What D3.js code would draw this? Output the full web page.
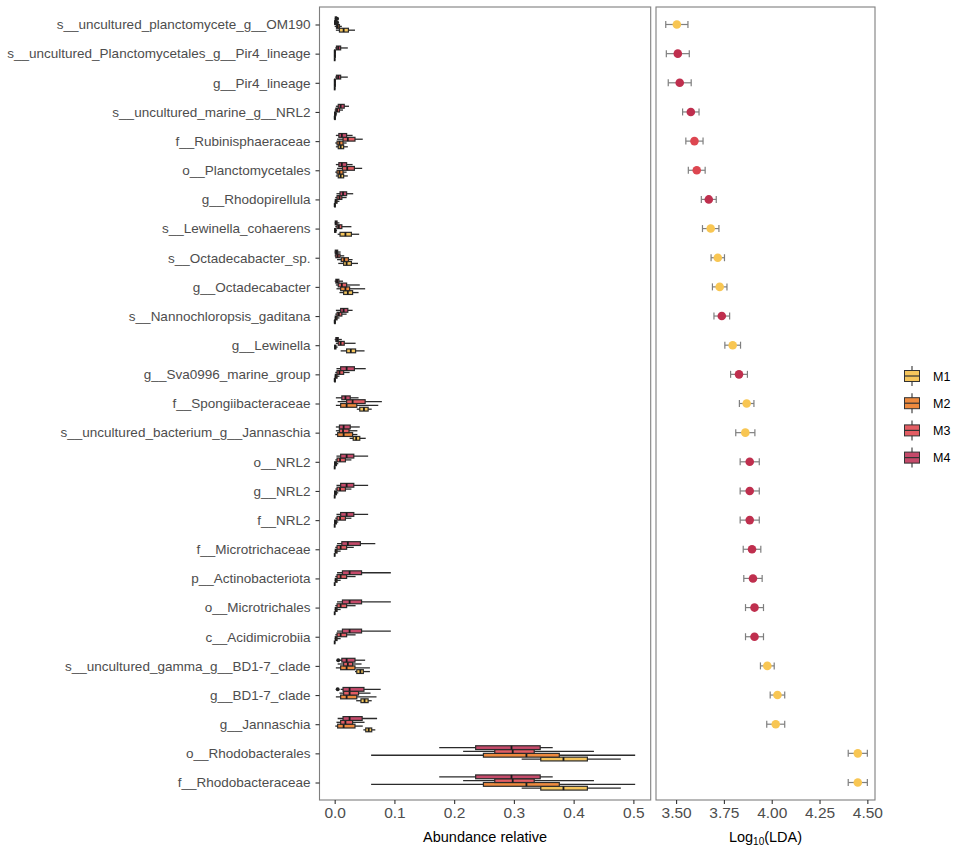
<!DOCTYPE html>
<html><head><meta charset="utf-8">
<script src="https://cdn.jsdelivr.net/npm/d3@7"></script>
<style>body{margin:0;background:#fff;} svg{display:block;font-family:"Liberation Sans",Arial,sans-serif;}</style>
</head><body>
<svg id="chart" width="959" height="849"></svg>
<script>
const categories = [
 "s__uncultured_planctomycete_g__OM190","s__uncultured_Planctomycetales_g__Pir4_lineage","g__Pir4_lineage",
 "s__uncultured_marine_g__NRL2","f__Rubinisphaeraceae","o__Planctomycetales","g__Rhodopirellula",
 "s__Lewinella_cohaerens","s__Octadecabacter_sp.","g__Octadecabacter","s__Nannochloropsis_gaditana",
 "g__Lewinella","g__Sva0996_marine_group","f__Spongiibacteraceae","s__uncultured_bacterium_g__Jannaschia",
 "o__NRL2","g__NRL2","f__NRL2","f__Microtrichaceae","p__Actinobacteriota","o__Microtrichales",
 "c__Acidimicrobiia","s__uncultured_gamma_g__BD1-7_clade","g__BD1-7_clade","g__Jannaschia",
 "o__Rhodobacterales","f__Rhodobacteraceae"];
const groups = ["M1","M2","M3","M4"];
const groupColors = ["#F5C55C","#EE8A3E","#E35D63","#C54A6A"];
const pointColors = {M1:"#F8C653", M3:"#DD4650", M4:"#BF2F4E"};

// boxplot stats per row: [lowWhisker, q1, median, q3, highWhisker]
const m1Box = [
 [0.002,0.008,0.015,0.023,0.034],[0,0,0,0,0.001],[0,0,0,0,0.001],[0,0,0,0.001,0.002],
 [0.002,0.006,0.010,0.015,0.022],[0.002,0.006,0.010,0.015,0.022],[0,0,0,0.001,0.002],
 [0.005,0.009,0.018,0.028,0.041],[0.006,0.015,0.020,0.028,0.039],[0.008,0.015,0.022,0.030,0.040],
 [0,0,0,0.001,0.002],[0.010,0.020,0.027,0.035,0.050],[0,0,0,0.001,0.002],
 [0.037,0.042,0.049,0.056,0.062],[0.025,0.031,0.036,0.042,0.052],
 [0,0,0,0,0.001],[0,0,0,0,0.001],[0,0,0,0,0.001],[0,0,0,0,0.001],[0,0,0,0,0.001],[0,0,0,0,0.001],[0,0,0,0,0.001],
 [0.034,0.037,0.043,0.048,0.059],[0.036,0.044,0.050,0.056,0.062],[0.048,0.052,0.057,0.062,0.068],
 [0.313,0.345,0.383,0.423,0.479],[0.313,0.345,0.383,0.423,0.479]];
const m2Box = [
 [0,0.003,0.005,0.008,0.012],[0,0,0,0.001,0.002],[0,0,0,0.001,0.002],[0,0,0.001,0.002,0.004],
 [0.001,0.004,0.008,0.014,0.020],[0.001,0.004,0.008,0.014,0.020],[0,0.001,0.002,0.004,0.008],
 [0,0,0.001,0.002,0.004],[0.004,0.011,0.016,0.023,0.030],[0.003,0.010,0.018,0.025,0.051],
 [0,0.001,0.002,0.004,0.008],[0,0,0.001,0.002,0.005],[0,0.001,0.002,0.004,0.008],
 [0.002,0.010,0.020,0.037,0.073],[0.001,0.005,0.015,0.030,0.038],
 [0,0,0.001,0.003,0.006],[0,0,0.001,0.003,0.006],[0,0,0.001,0.003,0.006],
 [0,0.001,0.002,0.004,0.010],[0,0.001,0.002,0.004,0.010],[0,0.001,0.002,0.004,0.010],[0,0.001,0.002,0.004,0.010],
 [0.002,0.010,0.020,0.034,0.059],[0.002,0.010,0.020,0.037,0.070],[0.001,0.005,0.015,0.034,0.047],
 [0.061,0.249,0.321,0.376,0.503],[0.061,0.249,0.321,0.376,0.503]];
const m3Box = [
 [0,0,0.001,0.002,0.003],[0,0,0,0.001,0.002],[0,0,0,0.001,0.002],[0,0.002,0.004,0.008,0.014],
 [0.004,0.014,0.022,0.034,0.047],[0.004,0.013,0.021,0.033,0.046],[0.001,0.004,0.008,0.012,0.020],
 [0.001,0.004,0.007,0.012,0.028],[0,0.002,0.005,0.009,0.016],[0.002,0.006,0.012,0.020,0.042],
 [0.001,0.004,0.007,0.012,0.020],[0.002,0.006,0.010,0.016,0.035],[0.001,0.004,0.008,0.015,0.025],
 [0.005,0.020,0.030,0.051,0.079],[0.002,0.008,0.014,0.024,0.038],
 [0.001,0.004,0.009,0.018,0.028],[0.001,0.004,0.009,0.018,0.028],[0.001,0.004,0.009,0.018,0.028],
 [0.001,0.004,0.010,0.020,0.032],[0.001,0.004,0.010,0.020,0.035],[0.001,0.004,0.010,0.020,0.035],[0.001,0.004,0.010,0.020,0.035],
 [0.005,0.015,0.022,0.030,0.045],[0.008,0.015,0.025,0.040,0.060],[0.003,0.010,0.018,0.030,0.050],
 [0.215,0.268,0.298,0.334,0.434],[0.215,0.268,0.298,0.334,0.434]];
const m4Box = [
 [0,0.001,0.002,0.003,0.005],[0.001,0.003,0.006,0.010,0.022],[0.001,0.003,0.006,0.010,0.022],[0.002,0.006,0.010,0.016,0.024],
 [0.002,0.007,0.012,0.020,0.030],[0.002,0.007,0.012,0.020,0.030],[0.003,0.009,0.014,0.020,0.031],
 [0,0.001,0.002,0.004,0.008],[0,0.001,0.003,0.005,0.010],[0,0.002,0.004,0.007,0.014],
 [0.002,0.010,0.015,0.022,0.030],[0,0.002,0.004,0.006,0.012],[0.003,0.010,0.020,0.033,0.052],
 [0.002,0.012,0.018,0.026,0.040],[0.002,0.008,0.015,0.026,0.042],
 [0.003,0.010,0.020,0.032,0.056],[0.003,0.010,0.020,0.032,0.056],[0.003,0.010,0.020,0.032,0.056],
 [0.004,0.012,0.022,0.043,0.068],[0.004,0.013,0.025,0.045,0.094],[0.004,0.013,0.025,0.045,0.094],[0.004,0.013,0.025,0.045,0.094],
 [0.008,0.012,0.020,0.034,0.051],[0.010,0.014,0.025,0.049,0.077],[0.005,0.014,0.025,0.046,0.071],
 [0.175,0.236,0.296,0.344,0.365],[0.175,0.236,0.296,0.344,0.365]];
// outliers: [rowIndex, group, value]
const outliers = [[22,"M4",0.006],[23,"M4",0.005],[0,"M4",0.004],[0,"M3",0.004]];

const ldaValues = [3.504,3.509,3.519,3.577,3.596,3.608,3.671,3.681,3.718,3.728,3.739,3.796,3.829,3.869,3.862,
 3.885,3.885,3.885,3.897,3.902,3.910,3.910,3.977,4.030,4.021,4.450,4.450];
const ldaErr = [0.058,0.060,0.060,0.043,0.045,0.044,0.039,0.043,0.035,0.038,0.041,0.041,0.044,0.038,0.050,
 0.050,0.050,0.050,0.046,0.048,0.047,0.047,0.036,0.038,0.047,0.050,0.050];
const ldaGroup = ["M1","M4","M4","M4","M3","M3","M4","M1","M1","M1","M4","M1","M4","M1","M1",
 "M4","M4","M4","M4","M4","M4","M4","M1","M1","M1","M1","M1"];
const abundTicks = [0,0.1,0.2,0.3,0.4,0.5];
const ldaTicks = [3.5,3.75,4.0,4.25,4.5];

const svg = d3.select("#chart");
const pTop = 7, pBottom = 800;
const L = {x0:319.5, x1:650.7}, R = {x0:656, x1:875};
const y = d3.scalePoint().domain(categories).range([pTop,pBottom]).padding(0.6);
const step = y.step();
const xA = d3.scaleLinear().domain([-0.0254,0.529]).range([L.x0,L.x1]);
const xL = d3.scaleLinear().domain([3.395,4.54]).range([R.x0,R.x1]);
const dodge = d3.scaleBand().domain(["M4","M3","M2","M1"]).range([-step*0.26, step*0.26]);
const color = d3.scaleOrdinal().domain(groups).range(groupColors);
const boxes = {M1:m1Box,M2:m2Box,M3:m3Box,M4:m4Box};

svg.append("rect").attr("x",L.x0).attr("y",pTop).attr("width",L.x1-L.x0).attr("height",pBottom-pTop).attr("fill","#fff");
svg.append("rect").attr("x",R.x0).attr("y",pTop).attr("width",R.x1-R.x0).attr("height",pBottom-pTop).attr("fill","#fff");

const gB = svg.append("g");
groups.forEach(g => {
  boxes[g].forEach((b,i) => {
    const cy = y(categories[i]) + dodge(g) + dodge.bandwidth()/2;
    const h = dodge.bandwidth();
    gB.append("line").attr("x1",xA(b[0])).attr("x2",xA(b[4])).attr("y1",cy).attr("y2",cy)
      .attr("stroke","#2b2b2b").attr("stroke-width",1.3);
    gB.append("rect").attr("x",xA(b[1])).attr("width",Math.max(0,xA(b[3])-xA(b[1])))
      .attr("y",cy-h/2).attr("height",h).attr("fill",color(g)).attr("stroke","#2b2b2b").attr("stroke-width",1.2);
    gB.append("line").attr("x1",xA(b[2])).attr("x2",xA(b[2])).attr("y1",cy-h/2).attr("y2",cy+h/2)
      .attr("stroke","#1a1a1a").attr("stroke-width",1.8);
  });
});
outliers.forEach(o => {
  const cy = y(categories[o[0]]) + dodge(o[1]) + dodge.bandwidth()/2;
  gB.append("circle").attr("cx",xA(o[2])).attr("cy",cy).attr("r",2).attr("fill","#222");
});

const gL = svg.append("g");
ldaValues.forEach((v,i) => {
  const cy = y(categories[i]);
  const lo = xL(v-ldaErr[i]), hi = xL(v+ldaErr[i]);
  gL.append("line").attr("x1",lo).attr("x2",hi).attr("y1",cy).attr("y2",cy).attr("stroke","#7f7f7f").attr("stroke-width",1.2);
  [lo,hi].forEach(xx => gL.append("line").attr("x1",xx).attr("x2",xx).attr("y1",cy-3.5).attr("y2",cy+3.5).attr("stroke","#7f7f7f").attr("stroke-width",1.2));
  gL.append("circle").attr("cx",xL(v)).attr("cy",cy).attr("r",4.3).attr("fill",pointColors[ldaGroup[i]]);
});

[L,R].forEach(p => svg.append("rect").attr("x",p.x0).attr("y",pTop).attr("width",p.x1-p.x0).attr("height",pBottom-pTop)
  .attr("fill","none").attr("stroke","#7f7f7f").attr("stroke-width",1.1));

function styleAxis(g){
  g.select(".domain").remove();
  g.selectAll(".tick line").attr("stroke","#333").attr("stroke-width",1.1);
  g.selectAll(".tick text").attr("fill","#4d4d4d");
}
const ax1 = svg.append("g").attr("transform",`translate(0,${pBottom})`)
  .call(d3.axisBottom(xA).tickValues(abundTicks).tickFormat(d3.format(".1f")).tickSize(4).tickPadding(3));
ax1.attr("font-size",15.5).attr("font-family",null); styleAxis(ax1);
const ax2 = svg.append("g").attr("transform",`translate(0,${pBottom})`)
  .call(d3.axisBottom(xL).tickValues(ldaTicks).tickFormat(d3.format(".2f")).tickSize(4).tickPadding(3));
ax2.attr("font-size",15.5).attr("font-family",null); styleAxis(ax2);
const ay = svg.append("g").attr("transform",`translate(${L.x0},0)`)
  .call(d3.axisLeft(y).tickSize(4).tickPadding(5));
ay.attr("font-size",13.5).attr("font-family",null); styleAxis(ay);

svg.append("text").attr("x",(L.x0+L.x1)/2).attr("y",842).attr("text-anchor","middle").attr("font-size",14.5).attr("fill","#000").text("Abundance relative");
const t2 = svg.append("text").attr("x",(R.x0+R.x1)/2).attr("y",842).attr("text-anchor","middle").attr("font-size",14.5).attr("fill","#000");
t2.append("tspan").text("Log");
t2.append("tspan").attr("font-size",10).attr("dy",3).text("10");
t2.append("tspan").attr("dy",-3).text("(LDA)");

const lg = svg.append("g");
groups.forEach((g,i) => {
  const cy = 376 + i*27.2, cx = 912;
  lg.append("line").attr("x1",cx).attr("x2",cx).attr("y1",cy-10).attr("y2",cy+10).attr("stroke","#333").attr("stroke-width",1.1);
  lg.append("rect").attr("x",cx-7.5).attr("y",cy-5.5).attr("width",15).attr("height",11).attr("fill",color(g)).attr("stroke","#333").attr("stroke-width",1);
  lg.append("line").attr("x1",cx-7.5).attr("x2",cx+7.5).attr("y1",cy).attr("y2",cy).attr("stroke","#333").attr("stroke-width",1.2);
  lg.append("text").attr("x",933).attr("y",cy+4.5).attr("font-size",12.5).attr("fill","#000").text(g);
});
</script>
</body></html>
